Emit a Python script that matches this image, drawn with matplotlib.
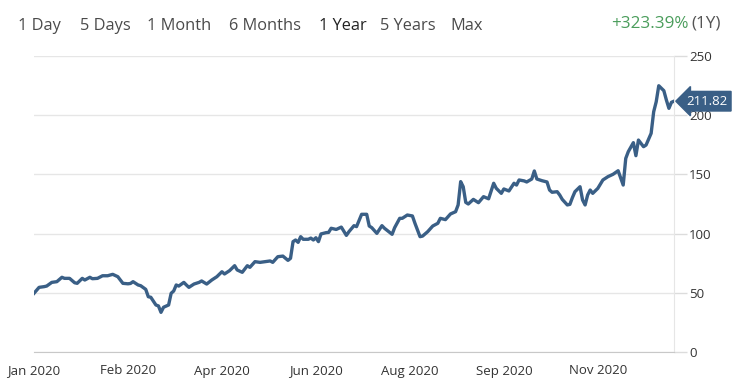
import matplotlib
matplotlib.use("Agg")
import matplotlib.pyplot as plt

plt.rcParams['font.family'] = ['Open Sans', 'DejaVu Sans']

# trading-day index and closing values
days = [0, 2, 4, 5, 7, 9, 11, 12, 14, 16, 17, 19, 20, 22, 23, 25, 27, 29, 31, 33,
        35, 37, 38, 39, 41, 42, 44, 45, 46, 48, 49, 50, 51, 53, 54, 55, 56, 57, 59, 60,
        61, 63, 65, 66, 68, 70, 72, 74, 75, 77, 79, 80, 82, 84, 85, 87, 89, 91, 93, 94,
        96, 98, 100, 101, 102, 103, 104, 105, 106, 108, 109, 110, 111, 112, 113, 115, 116, 117, 119, 121,
        123, 124, 126, 127, 129, 131, 132, 133, 135, 137, 138, 141, 142, 144, 145, 147, 149, 150, 152, 153,
        155, 157, 159, 160, 162, 164, 166, 167, 168, 169, 170, 171, 173, 175, 177, 179, 181, 182, 184, 185,
        187, 189, 190, 191, 193, 194, 196, 197, 198, 200, 202, 203, 204, 206, 207, 208, 210, 211, 212, 213,
        215, 216, 217, 218, 219, 220, 222, 224, 226, 228, 230, 232, 233, 234, 236, 237, 238, 240, 241, 243,
        244, 245, 246, 248, 249, 250, 251, 252]
values = [49.6, 54.6, 55.2, 55.7, 58.8, 59.4, 63.1, 62.2, 62.2, 58.5, 58.0, 62.2, 60.8, 63.1, 61.9, 62.2, 64.4, 64.4, 65.6, 63.6,
          58.0, 57.6, 57.9, 59.4, 56.6, 56.0, 52.9, 46.7, 46.2, 39.7, 38.9, 33.5, 37.8, 39.7, 49.6, 51.5, 56.6, 55.7, 58.8, 56.6,
          54.6, 57.4, 58.8, 60.0, 57.4, 60.8, 63.6, 67.8, 65.9, 68.7, 72.9, 69.3, 67.3, 72.9, 71.5, 76.3, 75.7, 76.3, 76.9, 75.7,
          80.5, 81.0, 77.4, 79.1, 93.2, 94.6, 92.6, 97.4, 95.2, 95.2, 96.2, 94.6, 96.5, 93.2, 99.7, 100.8, 101.0, 104.5, 103.5, 105.5,
          98.5, 101.6, 106.7, 105.9, 116.3, 116.3, 106.4, 105.0, 100.2, 106.7, 104.5, 99.4, 105.0, 112.9, 112.9, 115.7, 114.9, 108.7, 97.4, 97.9,
          101.6, 106.4, 108.7, 112.9, 111.8, 116.6, 118.5, 124.2, 143.9, 139.6, 126.4, 125.0, 128.9, 126.1, 131.2, 129.4, 142.5, 138.3, 134.0, 137.7,
          136.0, 142.5, 141.0, 145.3, 144.5, 143.6, 146.1, 152.9, 146.1, 144.7, 143.6, 136.8, 134.9, 135.4, 132.6, 128.9, 124.2, 124.7, 130.4, 135.4,
          139.6, 128.4, 124.2, 132.6, 136.8, 134.0, 138.2, 145.3, 148.1, 150.1, 153.1, 141.0, 163.5, 169.2, 176.8, 165.8, 179.0, 173.4, 174.8, 184.7,
          202.9, 211.4, 224.9, 220.7, 212.8, 205.8, 210.9, 211.82]

tick_days = [0, 37, 74, 111, 148, 185, 222]
tick_labels = ['Jan 2020', 'Feb 2020', 'Apr 2020', 'Jun 2020', 'Aug 2020', 'Sep 2020', 'Nov 2020']
y_ticks = [0, 50, 100, 150, 200, 250]
range_buttons = ['1 Day', '5 Days', '1 Month', '6 Months', '1 Year', '5 Years', 'Max']
change_text = '+323.39%'
period_text = '(1Y)'

W, H = 735, 389
fig = plt.figure(figsize=(W / 100, H / 100), dpi=100)
ax = fig.add_axes([34 / W, 37 / H, 640 / W, 296 / H])

line_color = '#3a5f86'
ax.plot(days, values, color=line_color, lw=2.4, solid_joinstyle='round', zorder=3)

ax.set_xlim(0, 252)
ax.set_ylim(0, 250)
ax.set_xticks(tick_days)
ax.set_xticklabels(tick_labels)
ax.set_yticks(y_ticks)
ax.yaxis.tick_right()
ax.grid(axis='y', color='#e6e6e6', lw=1)
ax.set_axisbelow(True)
for s in ['top', 'left']:
    ax.spines[s].set_visible(False)
ax.spines['bottom'].set_color('#c8c8c8')
ax.spines['right'].set_color('#e6e6e6')
ax.tick_params(axis='x', length=0, pad=9, labelsize=9.5, labelcolor='#333333')
ax.tick_params(axis='y', length=9, width=1, color='#dcdcdc', pad=2, labelsize=9.5, labelcolor='#333333')

last = values[-1]
ax.annotate(f'{last:.2f}', xy=(days[-1], last), xytext=(9, 0), textcoords='offset points',
            va='center', ha='left', color='white', fontsize=9.5,
            bbox=dict(boxstyle='larrow,pad=0.25', fc=line_color, ec=line_color),
            annotation_clip=False, zorder=5)

# range selector text
xs = [18, 80, 147, 229, 319, 380, 450]
for x, lab in zip(xs, range_buttons):
    fig.text(x / W, 1 - 26 / H, lab, ha='left', va='center', fontsize=11.8,
             color='#222222' if lab == '1 Year' else '#4a4a4a')
t2 = fig.text(721 / W, 1 - 24 / H, period_text, ha='right', va='center', fontsize=12.3, color='#555555')
fig.canvas.draw()
bb = t2.get_window_extent()
fig.text((bb.x0 - 3) / W, 1 - 24 / H, change_text, ha='right', va='center', fontsize=12.3, color='#4a9d5b')

fig.savefig('out.png', dpi=100)
